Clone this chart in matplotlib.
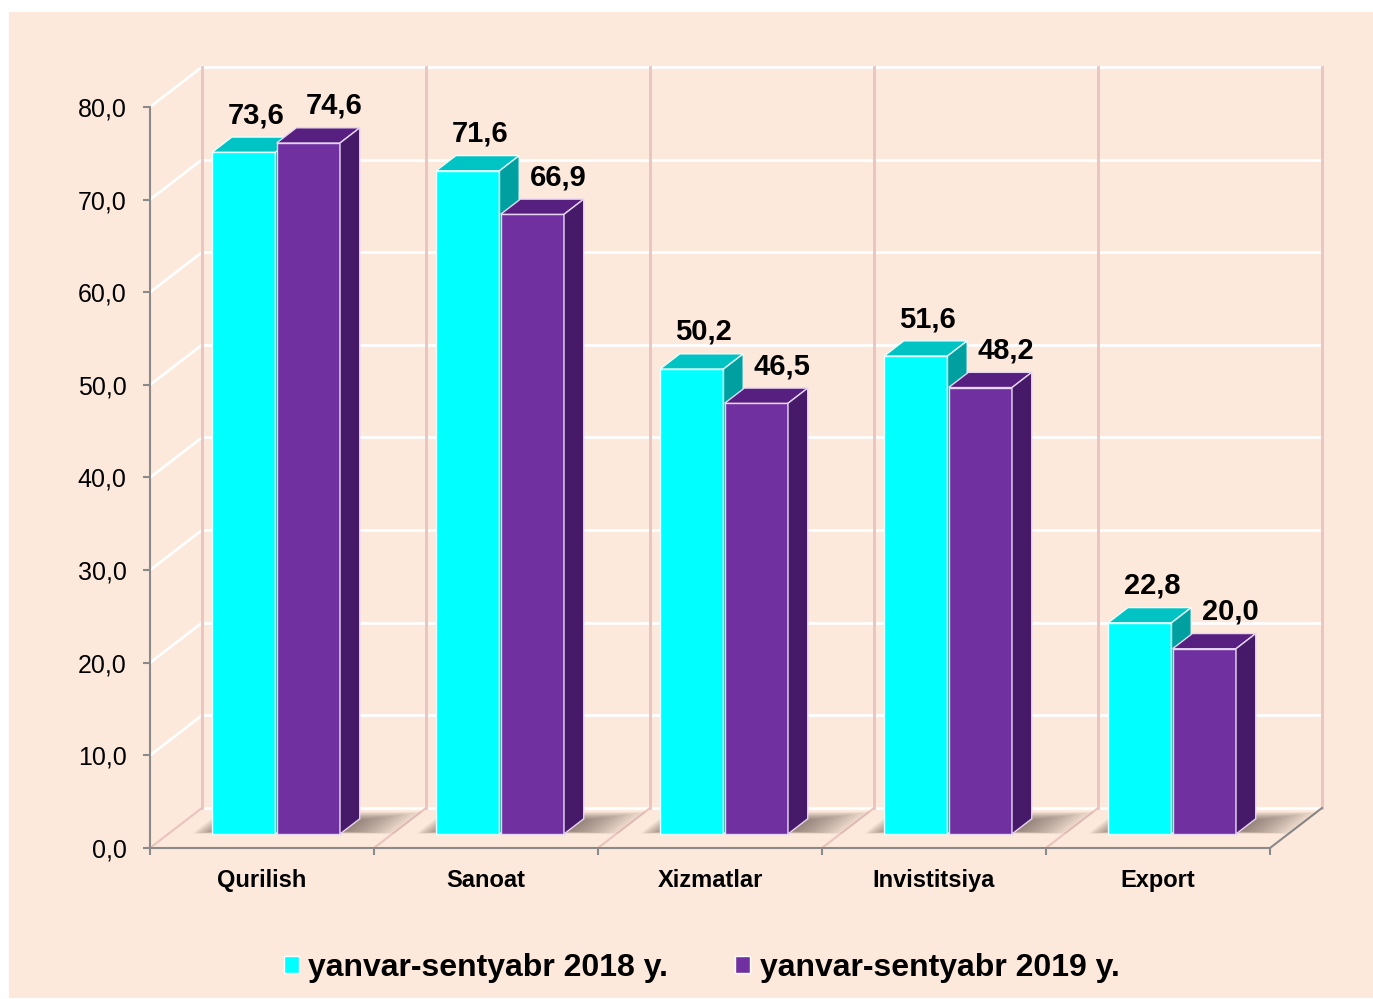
import numpy as np
import matplotlib.pyplot as plt
from matplotlib.patches import Polygon, Rectangle, Patch

plt.rcParams['font.family'] = ['Liberation Sans', 'DejaVu Sans']

categories = ['Qurilish', 'Sanoat', 'Xizmatlar', 'Invistitsiya', 'Export']
values_2018 = [73.6, 71.6, 50.2, 51.6, 22.8]
values_2019 = [74.6, 66.9, 46.5, 48.2, 20.0]
series_names = ['yanvar-sentyabr 2018 y.', 'yanvar-sentyabr 2019 y.']
y_ticks = np.arange(0, 81, 10)

BG = '#fde9db'
PINK = '#e9c3c0'
GRID = 'white'
AXIS = '#8a8a8a'

# front, top, side colour of each series
faces = [('#00ffff', '#00c3c3', '#00a0a0'),
         ('#7030a0', '#561f80', '#471a69')]
edges = ['#e6ffff', '#e6d6f2']


def fmt(v):
    return f'{v:.1f}'.replace('.', ',')


fig = plt.figure(figsize=(13.73, 9.99), dpi=100)
fig.patches.append(Rectangle((9 / 1373, 1 / 999), 1364 / 1373, 986 / 999,
                             transform=fig.transFigure, facecolor=BG,
                             edgecolor='none', zorder=-10))

ax = fig.add_axes([150 / 1373, 151 / 999, 1120 / 1373, 741 / 999])
ax.patch.set_visible(False)
n = len(categories)
ymax = y_ticks[-1]

# depth vector of the fake 3d box (category units, value units)
DX, DY = 0.232, 4.32

# back and side walls
for v in y_ticks:
    ax.plot([DX, n + DX], [v + DY, v + DY], color=GRID, lw=2,
            clip_on=False, zorder=1)
    if v > 0:
        ax.plot([0, DX], [v, v + DY], color=GRID, lw=2,
                clip_on=False, zorder=1)
for i in range(n + 1):
    ax.plot([i + DX] * 2, [DY, ymax + DY], color=PINK, lw=2,
            clip_on=False, zorder=1.2)
    if i < n:
        ax.plot([i, i + DX], [0, DY], color=PINK, lw=1.5,
                clip_on=False, zorder=1.2)
ax.plot([n, n + DX], [0, DY], color=AXIS, lw=1.5, clip_on=False, zorder=1.2)

# bars
z0, zt = 0.35, 0.38
W = 0.283
x_off = [0.196, 0.196 + W + 0.005]
base = z0 * DY
label_dx = [12 / 224, 26 / 224]

# soft floor shadow behind each pair
for i in range(n):
    xa = i + z0 * DX + x_off[0] - 0.09
    xb = i + z0 * DX + x_off[1] + W + 0.24
    for k in range(14):
        s = k * 0.009
        d0, d1 = z0 + 0.01 + s * 0.6, z0 + zt + 0.17 - s * 2.2
        pts = [(xa + s + d0 * DX - z0 * DX, d0 * DY),
               (xb - s * 2.4 + d0 * DX - z0 * DX, d0 * DY),
               (xb - s * 2.4 + d1 * DX - z0 * DX, d1 * DY),
               (xa + s + d1 * DX - z0 * DX, d1 * DY)]
        ax.add_patch(Polygon(pts, facecolor='#3a2c22', edgecolor='none',
                             alpha=0.06, clip_on=False, zorder=2))

for s, vals in enumerate([values_2018, values_2019]):
    front, top, side = faces[s]
    xl = np.arange(n) + z0 * DX + x_off[s]
    ax.bar(xl, vals, width=W, bottom=base, align='edge', color=front,
           edgecolor=edges[s], lw=1, zorder=4 + s)
    for x, v in zip(xl, vals):
        h = base + v
        ax.add_patch(Polygon([(x, h), (x + W, h),
                              (x + W + zt * DX, h + zt * DY),
                              (x + zt * DX, h + zt * DY)],
                             facecolor=top, edgecolor=edges[s], lw=1,
                             clip_on=False, zorder=4 + s))
        ax.add_patch(Polygon([(x + W, base), (x + W + zt * DX, base + zt * DY),
                              (x + W + zt * DX, h + zt * DY), (x + W, h)],
                             facecolor=side, edgecolor=edges[s], lw=1,
                             clip_on=False, zorder=4 + s))
        ax.text(x + W / 2 + label_dx[s], h + 4.0, fmt(v), ha='center',
                va='center', fontsize=21, fontweight='bold', zorder=7)

ax.set_xlim(0, n)
ax.set_ylim(0, ymax)
ax.set_yticks(y_ticks)
ax.set_yticklabels([fmt(v) for v in y_ticks], fontsize=18)
ax.set_xticks(range(n + 1))
ax.set_xticklabels([])
ax.set_xticks(np.arange(n) + 0.5, minor=True)
ax.set_xticklabels(categories, minor=True, fontsize=17, fontweight='bold')
ax.tick_params(axis='x', which='minor', length=0, pad=15)
ax.tick_params(axis='x', which='major', length=5, width=1.5, color=AXIS)
ax.tick_params(axis='y', length=5, width=1.5, color=AXIS, pad=12)
for side_name in ['top', 'right']:
    ax.spines[side_name].set_visible(False)
for side_name in ['left', 'bottom']:
    ax.spines[side_name].set_color(AXIS)
    ax.spines[side_name].set_linewidth(1.5)

handles = [Patch(facecolor=faces[k][0], edgecolor='white', lw=1)
           for k in range(2)]
fig.legend(handles, series_names, loc='center', bbox_to_anchor=(0.511, 0.031),
           ncol=2, frameon=False, handlelength=0.47, handleheight=0.47,
           handletextpad=0.3, columnspacing=2.1,
           prop={'weight': 'bold', 'size': 23})

fig.savefig('out.png', dpi=100)
